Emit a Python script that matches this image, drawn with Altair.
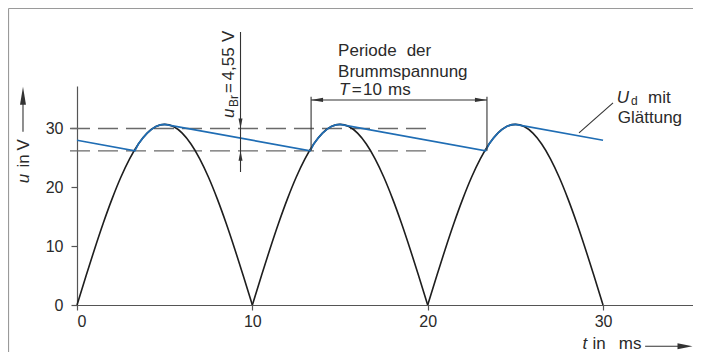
import altair as alt
import pandas as pd

# ---- data ----
# one half-wave of the rectified voltage (ms, V)
arch_t = [0, 0.5, 1, 1.5, 2, 2.5, 3, 3.5, 4, 4.5, 5, 5.5, 6, 6.5, 7, 7.5, 8, 8.5, 9, 9.5, 10]
arch_u = [0, 4.80, 9.49, 13.94, 18.04, 21.71, 24.84, 27.35, 29.20, 30.33, 30.70,
          30.33, 29.20, 27.35, 24.84, 21.71, 18.04, 13.94, 9.49, 4.80, 0]
arch_start = [0, 10, 20]

# smoothed voltage U_d
ud_t = [0, 3.3, 3.5, 3.75, 4, 4.25, 4.5, 4.75, 5,
        13.3, 13.5, 13.75, 14, 14.25, 14.5, 14.75, 15,
        23.3, 23.5, 23.75, 24, 24.25, 24.5, 24.75, 25, 30]
ud_u = [28.0, 26.2, 27.35, 28.36, 29.20, 29.85, 30.33, 30.61, 30.70,
        26.2, 27.35, 28.36, 29.20, 29.85, 30.33, 30.61, 30.70,
        26.2, 27.35, 28.36, 29.20, 29.85, 30.33, 30.61, 30.70, 28.0]

tick_values = [0, 10, 20, 30]

# dashed reference levels
dash_level = [30.0, 26.2]
dash_from = -0.4
dash_to = 19.95

# annotation lines (data units)
ann_t1 = [9.325, 13.35, 23.38, 13.35, 30.57, -3.08, 32.4]
ann_u1 = [22.6, 26.2, 26.2, 34.85, 34.34, 29.46, -7.0]
ann_t2 = [9.325, 13.35, 23.38, 23.38, 28.63, -3.08, 34.3]
ann_u2 = [46.4, 35.41, 35.41, 34.85, 29.24, 34.2, -7.0]

# annotation texts
reg_txt = ["Periode", "der", "Brummspannung", "=", "10", "ms", "mit", "Glättung", "in", "ms"]
reg_t = [14.89, 18.80, 14.89, 15.67, 16.31, 17.74, 32.57, 30.84, 29.40, 30.90]
reg_u = [42.33, 42.33, 38.76, 35.70, 35.70, 35.70, 34.34, 30.94, -7.45, -7.45]

ita_txt = ["T", "U", "t"]
ita_t = [14.94, 30.78, 28.83]
ita_u = [35.70, 34.34, -7.45]

sub_txt = ["d"]
sub_t = [31.6]
sub_u = [34.0]

rot_txt = ["=", "4,55", "V", "in", "V"]
rot_t = [8.954, 8.954, 8.954, -2.74, -2.74]
rot_u = [36.04, 38.16, 44.70, 23.37, 26.26]

rot_ita_txt = ["u", "u"]
rot_ita_t = [8.954, -2.74]
rot_ita_u = [31.79, 20.69]

rot_sub_txt = ["Br"]
rot_sub_t = [9.183]
rot_sub_u = [33.66]

# arrowheads (tip positions)
arr_down_t, arr_down_u = [9.325], [30.0]
arr_up_t, arr_up_u = [9.325], [26.2]
arr_left_t, arr_left_u = [13.35], [34.85]
arr_right_t, arr_right_u = [23.38], [34.85]
ytitle_arr_t, ytitle_arr_u = [-3.08], [37.1]
xtitle_arr_t, xtitle_arr_u = [35.1], [-7.0]

# ---- build tables ----
rows = []
for s in arch_start:
    for ti, ui in zip(arch_t, arch_u):
        rows.append({"t": s + ti, "u": ui, "arch": s})
df_arch = pd.DataFrame(rows)
df_ud = pd.DataFrame({"t": ud_t, "u": ud_u})
df_dash = pd.DataFrame({"t": [dash_from] * 2, "t2": [dash_to] * 2, "u": dash_level})
df_ann = pd.DataFrame({"t": ann_t1, "u": ann_u1, "t2": ann_t2, "u2": ann_u2})

def tdf(txt, t, u):
    return pd.DataFrame({"s": txt, "t": t, "u": u})

W, H = 616, 219
xs = alt.Scale(domain=[0, 35.13], nice=False, zero=False)
ys = alt.Scale(domain=[0, 37.22], nice=False, zero=False)

def X():
    return alt.X("t:Q", scale=xs, axis=alt.Axis(values=tick_values, title=None, grid=False))

def Y():
    return alt.Y("u:Q", scale=ys, axis=alt.Axis(values=tick_values, title=None, grid=False))

BLACK = "#1e1e1e"
BLUE = "#1f6db4"
GRAY = "#333333"
TXT = "#2a2a2a"
FONT = "Liberation Sans"

arches = alt.Chart(df_arch).mark_line(color=BLACK, strokeWidth=1.6, interpolate="monotone").encode(
    x=X(), y=Y(), detail="arch:N")
ud = alt.Chart(df_ud).mark_line(color=BLUE, strokeWidth=1.7).encode(x=X(), y=Y())
dashes = alt.Chart(df_dash).mark_rule(color="#6a6a6a", strokeWidth=1.3, strokeDash=[20, 8]).encode(
    x=X(), x2="t2:Q", y=Y())
ann = alt.Chart(df_ann).mark_rule(color=GRAY, strokeWidth=1.1).encode(
    x=X(), x2="t2:Q", y=Y(), y2="u2:Q")

def arrow(t, u, path, size):
    return alt.Chart(pd.DataFrame({"t": t, "u": u})).mark_point(
        shape=path, filled=True, size=size, color=GRAY, opacity=1, strokeWidth=0).encode(x=X(), y=Y())

arrows = [
    arrow(arr_down_t, arr_down_u, "M0,0L0.4,-2L-0.4,-2Z", 100),
    arrow(arr_up_t, arr_up_u, "M0,0L0.4,2L-0.4,2Z", 100),
    arrow(arr_left_t, arr_left_u, "M0,0L2,0.35L2,-0.35Z", 144),
    arrow(arr_right_t, arr_right_u, "M0,0L-2,0.35L-2,-0.35Z", 144),
    arrow(ytitle_arr_t, ytitle_arr_u, "M0,0L0.33,2L-0.33,2Z", 324),
    arrow(xtitle_arr_t, xtitle_arr_u, "M0,0L-2,0.4L-2,-0.4Z", 225),
]

def text(df, size=17, style="normal", angle=0):
    kw = dict(align="left", baseline="alphabetic", font=FONT, fontSize=size, color=TXT)
    if style != "normal":
        kw["fontStyle"] = style
    if angle:
        kw["angle"] = angle
    return alt.Chart(df).mark_text(**kw).encode(x=X(), y=Y(), text="s:N")

texts = [
    text(tdf(reg_txt, reg_t, reg_u)),
    text(tdf(ita_txt, ita_t, ita_u), style="italic"),
    text(tdf(sub_txt, sub_t, sub_u), size=12),
    text(tdf(rot_txt, rot_t, rot_u), angle=270),
    text(tdf(rot_ita_txt, rot_ita_t, rot_ita_u), style="italic", angle=270),
    text(tdf(rot_sub_txt, rot_sub_t, rot_sub_u), size=12, angle=270),
]

one = pd.DataFrame({"a": [0]})
frame_top = alt.Chart(one).mark_rule(color="#9a9a9a", strokeWidth=1.2).encode(
    x=alt.value(-68.5), x2=alt.value(W), y=alt.value(-77.5))
frame_left = alt.Chart(one).mark_rule(color="#9a9a9a", strokeWidth=1.2).encode(
    x=alt.value(-68.5), y=alt.value(-77.5), y2=alt.value(H + 47))

chart = alt.layer(
    frame_top, frame_left, dashes, arches, ud, ann, *arrows, *texts
).properties(
    width=W, height=H,
    padding={"left": 69, "top": 78, "right": 0, "bottom": 47},
    autosize=alt.AutoSizeParams(type="none"),
).configure_view(stroke=None).configure_axis(
    domainColor="#555555", tickColor="#555555", domainWidth=1.2, tickWidth=1.2,
    labelFont=FONT, labelFontSize=16, labelColor=TXT,
).configure_axisX(tickSize=5, labelPadding=3).configure_axisY(tickSize=6, labelPadding=8)

chart.save("out.html", embed_options={"renderer": "svg", "actions": False})
